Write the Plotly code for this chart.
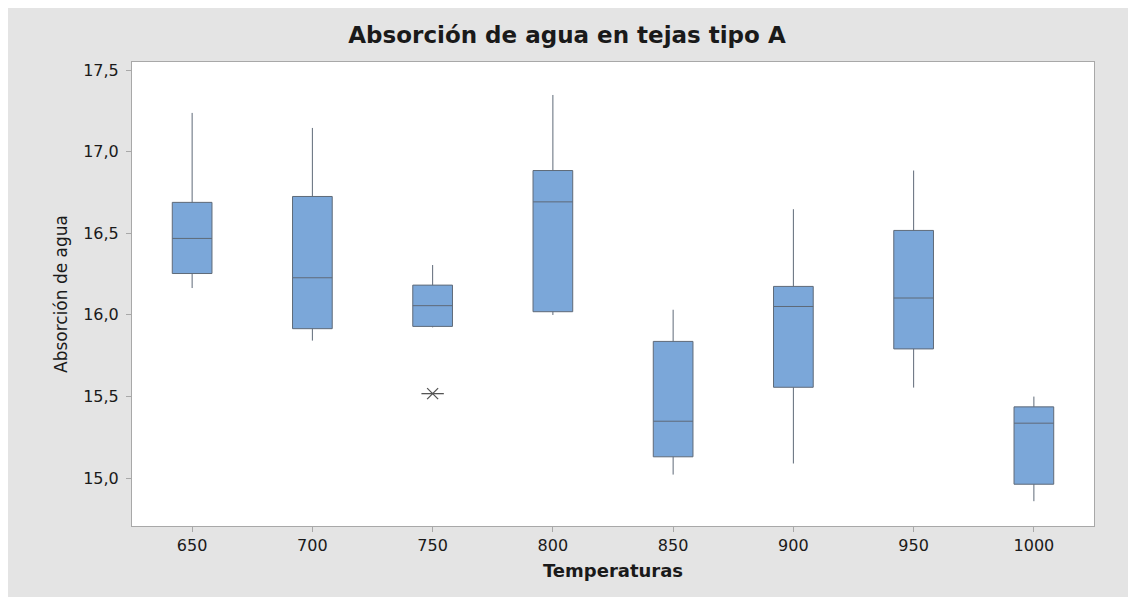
import plotly.graph_objects as go

# Data
temperaturas = ["650", "700", "750", "800", "850", "900", "950", "1000"]
bigote_inf = [16.164, 15.842, 15.923, 15.999, 15.021, 15.089, 15.554, 14.858]
q1 = [16.253, 15.915, 15.929, 16.019, 15.130, 15.556, 15.791, 14.962]
mediana = [16.468, 16.227, 16.056, 16.692, 15.348, 16.051, 16.103, 15.336]
q3 = [16.689, 16.725, 16.182, 16.884, 15.837, 16.174, 16.517, 15.436]
bigote_sup = [17.237, 17.145, 16.305, 17.347, 16.031, 16.647, 16.884, 15.499]
atipico_x = ["750"]
atipico_y = [15.517]
yticks = [15.0, 15.5, 16.0, 16.5, 17.0, 17.5]

FONT = "DejaVu Sans"
TXT = "#1a1a1a"
AX = "#a8a8a8"
MK = "#555555"

fig = go.Figure()
fig.add_trace(go.Box(
    x=temperaturas, q1=q1, median=mediana, q3=q3,
    lowerfence=bigote_inf, upperfence=bigote_sup,
    fillcolor="#7ba7d9", line=dict(color="#5f6a78", width=1),
    whiskerwidth=0, width=0.33, boxpoints=False, showlegend=False,
    hoverinfo="y",
))
# outlier drawn as Minitab-style asterisk (diagonal cross + horizontal bar)
fig.add_trace(go.Scatter(
    x=atipico_x, y=atipico_y, mode="markers",
    marker=dict(symbol="x-thin-open", size=11, color=MK,
                line=dict(color=MK, width=1.3)),
    showlegend=False, hoverinfo="y",
))
fig.add_trace(go.Scatter(
    x=atipico_x, y=atipico_y, mode="markers",
    marker=dict(symbol="line-ew-open", size=16, color=MK,
                line=dict(color=MK, width=1.3)),
    showlegend=False, hoverinfo="skip",
))

fig.update_layout(
    width=1128, height=589,
    margin=dict(l=124, r=42, t=54, b=71),
    paper_bgcolor="#e4e4e4", plot_bgcolor="white",
    separators=",.",
    font=dict(family=FONT, color=TXT, size=16),
    title=dict(text="<b>Absorción de agua en tejas tipo A</b>",
               x=(567 - 8) / 1128, xref="container",
               xanchor="center", y=1 - 27 / 589, yref="container", yanchor="middle",
               font=dict(family=FONT, size=23, color=TXT)),
)
fig.update_xaxes(
    type="category", range=[-0.5, 7.5],
    showline=True, linecolor=AX, linewidth=1, mirror=True,
    ticks="outside", ticklen=5, tickcolor=AX,
    showgrid=False, zeroline=False,
    tickfont=dict(size=16, color=TXT),
    title=dict(text="<b>Temperaturas</b>", font=dict(family=FONT, size=18, color=TXT),
               standoff=10),
)
fig.update_yaxes(
    range=[14.706, 17.549], tickvals=yticks, tickformat=".1f",
    showline=True, linecolor=AX, linewidth=1, mirror=True,
    ticks="outside", ticklen=5, tickcolor=AX, ticklabelstandoff=4,
    showgrid=False, zeroline=False,
    tickfont=dict(size=16, color=TXT),
    title=dict(text="Absorción de agua", font=dict(size=17, color=TXT), standoff=11),
)

fig.write_html("out.html")
